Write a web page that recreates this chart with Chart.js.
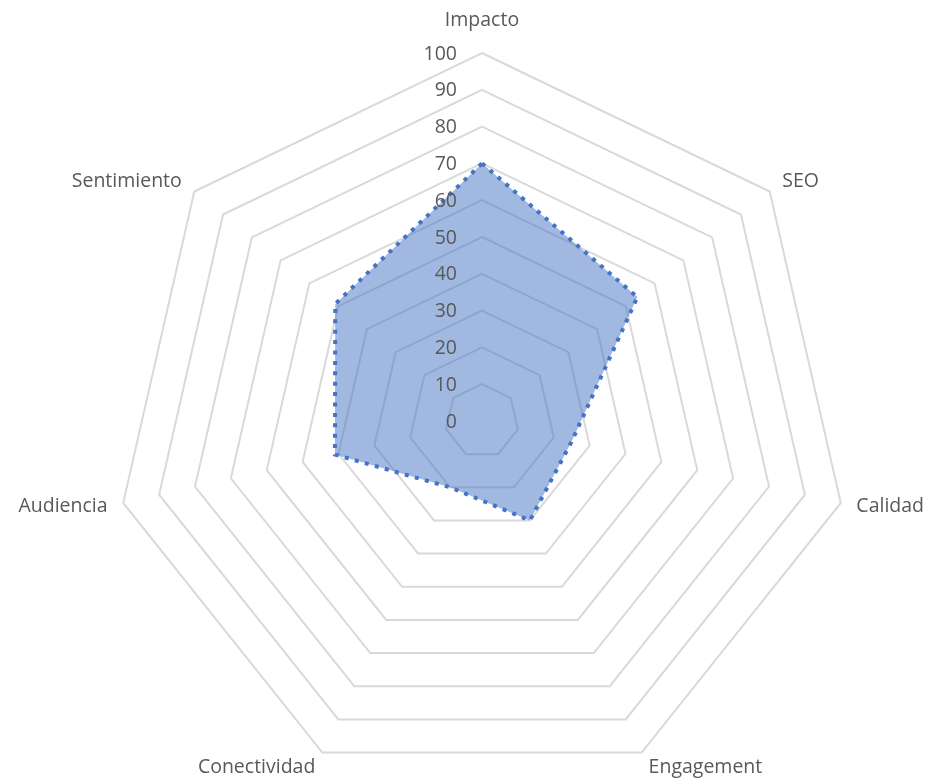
<!DOCTYPE html>
<html>
<head>
<meta charset="utf-8">
<script src="https://cdn.jsdelivr.net/npm/chart.js@4.4.1/dist/chart.umd.min.js"></script>
<style>
  html, body { margin: 0; padding: 0; background: #fff; overflow: hidden; }
  #wrap { width: 932px; height: 784px; position: relative; overflow: hidden; }
  /* chart box is a little larger than the window so the radar can fill it */
  #box { position: absolute; left: 0; top: 0; width: 941px; height: 806px; }
</style>
</head>
<body>
<div id="wrap"><div id="box"><canvas id="radar"></canvas></div></div>
<script>
const categories = ['Impacto', 'SEO', 'Calidad', 'Engagement', 'Conectividad', 'Audiencia', 'Sentimiento'];
const scores = [70, 54, 25, 30, 20, 41, 51];
const tickValues = [0, 10, 20, 30, 40, 50, 60, 70, 80, 90, 100];

const textColor = '#595959';
const fontFamily = '"Open Sans", "Liberation Sans", sans-serif';

// tick numbers sit just left of the vertical axis, over the fill
const leftTicks = {
  id: 'leftTicks',
  afterDatasetsDraw(chart) {
    const r = chart.scales.r;
    const ctx = chart.ctx;
    ctx.save();
    ctx.font = '19.5px ' + fontFamily;
    ctx.fillStyle = textColor;
    ctx.textAlign = 'right';
    ctx.textBaseline = 'middle';
    tickValues.forEach(v => {
      const y = r.yCenter - r.getDistanceFromCenterForValue(v);
      ctx.fillText(String(v), r.xCenter - 25, y + 1);
    });
    ctx.restore();
  }
};

new Chart(document.getElementById('radar').getContext('2d'), {
  type: 'radar',
  data: {
    labels: categories,
    datasets: [{
      label: 'Puntuación',
      data: scores,
      backgroundColor: 'rgba(68,114,196,0.5)',
      borderColor: '#4472C4',
      borderWidth: 4,
      borderDash: [4, 6.4],
      borderCapStyle: 'butt',
      pointRadius: 0,
      pointHoverRadius: 0,
      tension: 0
    }]
  },
  options: {
    responsive: true,
    maintainAspectRatio: false,
    animation: false,
    layout: { padding: { top: 4, bottom: 0, left: 1, right: 0 } },
    plugins: {
      legend: { display: false },
      tooltip: { enabled: false }
    },
    scales: {
      r: {
        min: 0,
        max: 100,
        beginAtZero: true,
        angleLines: { display: false },
        grid: { color: '#d9d9d9', lineWidth: 2 },
        ticks: { display: false, stepSize: 10 },
        pointLabels: {
          color: textColor,
          padding: (c) => c.index === 0 ? 33 : 16,
          font: { family: fontFamily, size: 19.5, lineHeight: 0 }
        }
      }
    }
  },
  plugins: [leftTicks]
});
</script>
</body>
</html>
